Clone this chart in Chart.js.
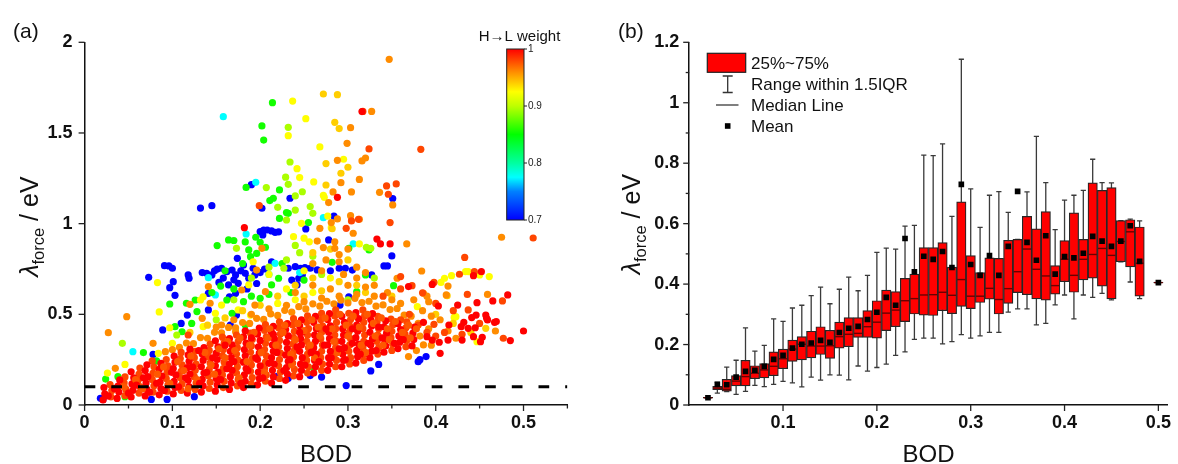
<!DOCTYPE html>
<html><head><meta charset="utf-8">
<script src="https://cdn.jsdelivr.net/npm/chart.js@4.4.1/dist/chart.umd.min.js"></script>
<style>
html,body{margin:0;padding:0;background:#fff;width:1178px;height:464px;overflow:hidden}
#wa{position:absolute;left:0;top:0;width:590px;height:464px}
#wb{position:absolute;left:590px;top:0;width:588px;height:464px}
</style></head><body>
<div id="wa"><canvas id="ca" width="590" height="464"></canvas></div>
<div id="wb"><canvas id="cb" width="588" height="464"></canvas></div>
<script>
// ---------------- Panel (a) data: [BOD, lambda_force] grouped by H->L weight ----------------
const groupWeights = {overlayRed:1.0, overlayMix:0.975, red:1.0, redOrange:0.98, orange:0.96, yellowOrange:0.94, yellow:0.925, yellowGreen:0.895, green:0.855, cyan:0.775, blue:0.70};
const thresholdLine = 0.1;
const cbarTicks = [0.7, 0.8, 0.9, 1];

const overlayRedPts = [
[.027,.050],[.034,.090],[.050,.065],[.059,.110],[.067,.150],[.074,.070],[.082,.120],[.091,.080],[.099,.180],[.107,.100],
[.115,.150],[.123,.210],[.131,.120],[.139,.180],[.146,.260],[.155,.140],[.162,.200],[.170,.240],[.178,.120],[.186,.190],
[.195,.260],[.203,.150],[.210,.230],[.219,.290],[.227,.190],[.234,.250],[.242,.320],[.251,.220],[.258,.290],[.267,.240],
[.273,.330],[.281,.260],[.290,.310],[.297,.250],[.305,.340],[.314,.280],[.323,.340],[.332,.300],[.339,.370],[.353,.340],
[.363,.360],[.130,.300],[.160,.330],[.190,.370],[.215,.390],[.245,.400],[.275,.420],[.305,.420],[.335,.430]
];
const overlayMixPts = [
[.045,.100],[.058,.140],[.066,.090],[.083,.170],[.090,.210],[.097,.120],[.106,.240],[.113,.190],[.121,.270],[.128,.140],
[.137,.290],[.144,.220],[.153,.310],[.160,.260],[.163,.350],[.171,.300],[.177,.370],[.185,.240],[.188,.330],[.193,.400],
[.201,.290],[.209,.370],[.211,.420],[.218,.330],[.226,.400],[.228,.440],[.235,.280],[.240,.360],[.243,.450],[.250,.410],
[.257,.330],[.259,.470],[.266,.430],[.268,.380],[.274,.480],[.282,.420],[.284,.350],[.291,.500],[.298,.440],[.300,.380],
[.306,.490],[.313,.430],[.315,.330],[.322,.500],[.329,.450],[.331,.380],[.338,.480],[.345,.420],[.347,.360],[.354,.460],
[.362,.400],[.369,.440],[.371,.370],[.378,.420],[.236,.220],[.205,.180],[.176,.150],[.148,.170],[.118,.090],[.262,.260],
[.288,.290],[.320,.290],[.340,.330]
];
const redPts = [
[.021,.028],[.023,.062],[.022,.096],
[.037,.036],[.039,.071],[.038,.104],[.040,.138],
[.053,.044],[.055,.081],[.054,.116],[.056,.150],[.053,.183],
[.069,.050],[.071,.086],[.070,.121],[.072,.156],[.069,.190],[.071,.222],
[.085,.056],[.087,.091],[.086,.126],[.088,.160],[.085,.196],[.087,.229],
[.101,.061],[.103,.096],[.102,.131],[.104,.166],[.101,.201],[.103,.236],[.102,.270],
[.117,.066],[.119,.101],[.118,.136],[.120,.171],[.117,.206],[.119,.241],[.118,.276],[.120,.308],
[.133,.071],[.135,.106],[.134,.141],[.136,.176],[.133,.211],[.135,.246],[.134,.281],[.136,.316],
[.149,.076],[.151,.111],[.150,.146],[.152,.181],[.149,.216],[.151,.251],[.150,.286],[.152,.321],[.149,.354],
[.165,.086],[.167,.121],[.166,.156],[.168,.191],[.165,.226],[.167,.261],[.166,.296],[.168,.331],[.165,.366],
[.181,.096],[.183,.131],[.182,.166],[.184,.201],[.181,.236],[.183,.271],[.182,.306],[.184,.341],[.181,.376],[.183,.409],
[.197,.111],[.199,.146],[.198,.181],[.200,.216],[.197,.251],[.199,.286],[.198,.321],[.200,.356],[.197,.391],[.199,.424],
[.213,.121],[.215,.156],[.214,.191],[.216,.226],[.213,.261],[.215,.296],[.214,.331],[.216,.366],[.213,.401],[.215,.434],
[.229,.136],[.231,.171],[.230,.206],[.232,.241],[.229,.276],[.231,.311],[.230,.346],[.232,.381],[.229,.416],[.231,.449],
[.245,.156],[.247,.191],[.246,.226],[.248,.261],[.245,.296],[.247,.331],[.246,.366],[.248,.401],[.245,.436],[.247,.469],
[.261,.176],[.263,.211],[.262,.246],[.264,.281],[.261,.316],[.263,.351],[.262,.386],[.264,.421],[.261,.456],[.263,.489],
[.277,.191],[.279,.226],[.278,.261],[.280,.296],[.277,.331],[.279,.366],[.278,.401],[.280,.436],[.277,.471],[.279,.504],
[.293,.211],[.295,.246],[.294,.281],[.296,.316],[.293,.351],[.295,.386],[.294,.421],[.296,.456],[.293,.489],
[.309,.231],[.311,.266],[.310,.301],[.312,.336],[.309,.371],[.311,.406],[.310,.441],[.312,.476],[.309,.509],
[.325,.261],[.327,.296],[.326,.331],[.328,.366],[.325,.401],[.327,.436],[.326,.471],[.328,.504],
[.341,.291],[.343,.326],[.342,.361],[.344,.396],[.341,.431],[.343,.464],
[.357,.311],[.359,.346],[.358,.381],[.360,.416],[.357,.449],
[.373,.326],[.375,.361],[.374,.396],[.376,.429],
[.316,1.618],[.288,1.145],[.182,0.978],[.333,0.915],[.337,0.888],[.348,0.888],[.369,0.653],[.452,0.735],[.443,0.713],
[.396,0.665],[.465,0.574],[.482,0.607],[.447,0.564],[.403,0.546],[.425,0.551],[.446,0.496],[.459,0.469],[.467,0.456],
[.458,0.478],[.432,0.456],[.441,0.482],[.445,0.426],[.437,0.423],[.429,0.432],[.415,0.441],[.443,0.377],[.453,0.373],
[.430,0.358],[.414,0.358],[.404,0.346],[.396,0.358],[.405,0.285],[.390,0.377],[.386,0.456],[.500,0.408],[.485,0.355],
[.451,0.349],[.457,0.496],[.469,0.460]
];
const redOrangePts = [
[.030,.045],[.031,.080],[.029,.113],
[.046,.052],[.047,.087],[.045,.122],[.046,.155],
[.062,.066],[.063,.101],[.061,.136],[.062,.171],[.063,.204],
[.078,.071],[.079,.106],[.077,.141],[.078,.176],[.079,.211],[.077,.243],
[.094,.076],[.095,.111],[.093,.146],[.094,.181],[.095,.216],[.093,.251],
[.110,.081],[.111,.116],[.109,.151],[.110,.186],[.111,.221],[.109,.256],[.110,.290],
[.126,.086],[.127,.121],[.125,.156],[.126,.191],[.127,.226],[.125,.261],[.126,.296],
[.142,.091],[.143,.126],[.141,.161],[.142,.196],[.143,.231],[.141,.266],[.142,.301],[.143,.336],
[.158,.096],[.159,.131],[.157,.166],[.158,.201],[.159,.236],[.157,.271],[.158,.306],[.159,.341],[.157,.374],
[.174,.106],[.175,.141],[.173,.176],[.174,.211],[.175,.246],[.173,.281],[.174,.316],[.175,.351],[.173,.386],
[.190,.116],[.191,.151],[.189,.186],[.190,.221],[.191,.256],[.189,.291],[.190,.326],[.191,.361],[.189,.396],
[.206,.131],[.207,.166],[.205,.201],[.206,.236],[.207,.271],[.205,.306],[.206,.341],[.207,.376],[.205,.411],[.206,.444],
[.222,.146],[.223,.181],[.221,.216],[.222,.251],[.223,.286],[.221,.321],[.222,.356],[.223,.391],[.221,.426],[.222,.459],
[.238,.161],[.239,.196],[.237,.231],[.238,.266],[.239,.301],[.237,.336],[.238,.371],[.239,.406],[.237,.441],[.238,.476],
[.254,.176],[.255,.211],[.253,.246],[.254,.281],[.255,.316],[.253,.351],[.254,.386],[.255,.421],[.253,.456],[.254,.491],
[.270,.191],[.271,.226],[.269,.261],[.270,.296],[.271,.331],[.269,.366],[.270,.401],[.271,.436],[.269,.471],[.270,.506],
[.286,.211],[.287,.246],[.285,.281],[.286,.316],[.287,.351],[.285,.386],[.286,.421],[.287,.456],[.285,.491],[.286,.524],
[.302,.226],[.303,.261],[.301,.296],[.302,.331],[.303,.366],[.301,.401],[.302,.436],[.303,.471],[.301,.506],
[.318,.246],[.319,.281],[.317,.316],[.318,.351],[.319,.386],[.317,.421],[.318,.456],[.319,.491],[.317,.524],
[.334,.281],[.335,.316],[.333,.351],[.334,.386],[.335,.421],[.333,.456],[.334,.489],
[.350,.301],[.351,.336],[.349,.371],[.350,.406],[.351,.441],[.349,.474],
[.366,.321],[.367,.356],[.365,.391],[.366,.426],[.367,.459],
[.317,1.619],[.324,1.412],[.383,1.410],[.344,1.208],[.346,1.162],[.355,1.219],[.348,1.006],[.304,1.015],[.298,0.974],
[.199,1.099],[.433,0.814],[.398,0.676],[.427,0.721],[.444,0.735],[.385,0.619],[.373,0.658],[.360,0.708],[.436,0.610],
[.437,0.524],[.476,0.574],[.398,0.445],[.380,0.441],[.477,0.368],[.511,0.921],[.312,1.024],[.118,0.386],[.340,0.600],
[.360,0.640],[.400,0.560],[.420,0.520],[.450,0.450],[.410,0.400],[.430,0.390],[.390,0.400],[.400,0.380],[.370,0.500],[.360,0.470]
];
const orangePts = [
[.347,1.906],[.327,1.619],[.303,1.529],[.299,1.443],[.288,1.349],[.316,1.346],[.320,1.362],[.313,1.244],[.336,1.173],
[.351,1.103],[.292,1.226],[.304,1.175],[.283,1.175],[.278,1.116],[.288,1.026],[.303,1.044],[.313,1.024],[.268,0.974],
[.281,1.006],[.306,0.947],[.265,0.904],[.272,0.868],[.285,0.864],[.290,0.830],[.367,0.888],[.475,0.925],[.384,0.739],
[.414,0.656],[.459,0.610],[.386,0.616],[.392,0.570],[.468,0.408],[.414,0.408],[.423,0.368],[.386,0.331],[.412,0.607],
[.369,0.267],[.356,0.699],[.027,0.399],[.048,0.487],[.035,0.202],[.078,0.340],[.092,0.294],[.120,0.555],[.134,0.478],
[.143,0.561],[.156,0.441],[.172,0.404],[.194,0.551],[.206,0.625],[.202,0.864],[.196,0.744],[.179,0.634],[.141,0.653],
[.100,.305],[.108,.318],[.116,.342],[.124,.338],[.132,.372],[.140,.368],[.148,.401],[.156,.398],[.164,.428],[.172,.425],
[.180,.455],[.188,.450],[.196,.478],[.204,.472],[.212,.502],[.220,.494],[.228,.522],[.236,.512],[.244,.542],[.252,.530],
[.260,.558],[.268,.545],[.276,.572],[.284,.558],[.292,.578],[.300,.563],[.308,.588],[.316,.565],[.324,.572],[.332,.545],
[.340,.552],[.348,.526],[.356,.532],[.364,.496],[.372,.490],[.380,.450],
[.150,.430],[.170,.470],[.190,.500],[.210,.530],[.230,.550],[.250,.570],[.270,.590],[.290,.600],[.310,.610],[.330,.600],
[.350,.580],[.240,.620],[.280,.640],[.300,.660],[.320,.650],[.260,.660],
[.385,.520],[.395,.490],[.405,.470],[.360,.560],[.375,.580],[.390,.600],[.345,.620],[.330,.660],[.310,.700],[.295,.720],
[.270,.740],[.260,.780],[.275,.800],[.290,.790],[.310,.760],[.320,.730],[.300,.860],[.285,.900],
[.382,.380],[.392,.420],[.378,.300],[.395,.330]
];
const yellowOrangePts = [
[.272,1.715],[.288,1.711],[.285,1.559],[.290,1.524],[.275,1.331],[.300,1.311],[.292,1.278],[.275,1.213],[.457,0.423],
[.413,0.603],[.420,0.450],[.440,0.400],[.400,0.500],[.350,0.600],[.320,0.620],[.290,0.680],[.260,0.700],[.240,0.660],
[.220,0.600],[.200,0.550],[.180,0.520],[.160,0.480],[.140,0.440],[.120,0.400],[.250,0.600],[.270,0.630],[.310,0.660],
[.280,0.860],[.282,0.972],[.260,0.840],[.300,0.800]
];
const yellowPts = [
[.237,1.676],[.252,1.579],[.232,1.485],[.295,1.355],[.242,1.303],[.245,1.254],[.261,1.230],[.272,1.156],[.273,1.145],
[.277,1.042],[.281,0.978],[.247,1.002],[.268,1.423],[.085,0.513],[.083,0.675],[.046,0.224],[.026,0.176],[.097,0.426],
[.100,0.340],[.084,0.285],[.132,0.579],[.135,0.432],[.149,0.506],[.175,0.524],[.189,0.496],[.192,0.790],[.187,0.662],
[.156,0.551],[.135,0.597],[.238,0.928],[.250,0.920],[.256,0.900],[.313,0.888],[.406,0.676],[.410,0.699],[.418,0.713],
[.434,0.735],[.437,0.735],[.450,0.717],[.379,0.542],[.421,0.483],[.447,0.349],[.461,0.708],[.423,0.487],[.220,0.560],
[.240,0.580],[.230,0.640],[.260,0.620],[.210,0.720],[.250,0.740],[.280,0.700]
];
const yellowGreenPts = [
[.232,1.531],[.234,1.340],[.229,1.256],[.232,1.217],[.207,1.199],[.248,1.176],[.240,1.153],[.240,1.075],[.257,1.094],
[.260,1.057],[.220,1.090],[.230,1.020],[.227,0.754],[.326,0.864],[.321,0.870],[.105,0.386],[.043,0.340],[.173,0.864],
[.240,0.880],[.245,0.840],[.230,0.800],[.260,0.820],[.210,0.760],[.190,0.700],[.170,0.580],[.150,0.470],[.300,0.580],
[.330,0.700],[.270,0.720]
];
const greenPts = [
[.214,1.667],[.202,1.539],[.204,1.461],[.222,1.186],[.184,1.200],[.215,1.140],[.211,1.127],[.222,1.029],[.232,1.057],
[.255,1.006],[.230,1.061],[.183,0.899],[.164,0.910],[.170,0.907],[.151,0.879],[.187,0.855],[.189,0.818],[.196,0.836],
[.200,0.897],[.206,0.870],[.195,0.925],[.097,0.557],[.103,0.432],[.111,0.404],[.067,0.289],[.082,0.243],[.024,0.143],
[.038,0.156],[.116,0.561],[.122,0.450],[.128,0.515],[.168,0.506],[.181,0.570],[.183,0.441],[.200,0.588],[.213,0.662],
[.221,0.699],[.162,0.579],[.126,0.579],[.155,0.656],[.324,0.855],[.282,0.787],[.250,0.689],[.352,0.658],[.310,0.625],
[.320,0.717],[.261,0.202],[.301,0.864],[.235,0.620],[.210,0.610],[.190,0.600],[.170,0.640],[.145,0.620],[.160,0.740],
[.180,0.780],[.225,0.780],[.046,0.046]
];
const cyanPts = [
[.158,1.590],[.195,1.228],[.184,0.943],[.272,1.033],[.306,0.888],[.141,0.702],[.149,0.607],[.217,0.781],[.210,0.720],
[.245,0.730],[.055,0.294]
];
const bluePts = [
[.132,1.086],[.145,1.099],[.202,1.085],[.190,1.215],[.234,1.140],[.351,1.138],[.284,1.042],[.200,0.956],[.204,0.965],
[.208,0.965],[.213,0.960],[.217,0.952],[.203,0.938],[.221,0.955],[.252,0.971],[.174,0.809],[.278,0.910],[.350,0.822],
[.341,0.767],[.345,0.767],[.073,0.704],[.091,0.768],[.096,0.767],[.100,0.754],[.101,0.680],[.097,0.647],[.103,0.605],
[.089,0.414],[.118,0.717],[.119,0.699],[.134,0.730],[.139,0.726],[.145,0.717],[.151,0.750],[.156,0.754],[.162,0.735],
[.168,0.744],[.172,0.717],[.153,0.676],[.164,0.662],[.175,0.671],[.181,0.772],[.183,0.726],[.187,0.699],[.192,0.754],
[.194,0.717],[.158,0.700],[.170,0.690],[.178,0.740],[.148,0.740],[.141,0.616],[.165,0.597],[.166,0.441],[.110,0.450],
[.078,0.279],[.172,0.616],[.141,0.524],[.213,0.790],[.232,0.754],[.240,0.763],[.246,0.754],[.251,0.757],[.257,0.754],
[.244,0.699],[.236,0.689],[.248,0.717],[.242,0.662],[.290,0.754],[.297,0.754],[.305,0.744],[.327,0.717],[.301,0.597],
[.291,0.551],[.018,0.037],[.021,0.030],[.076,0.031],[.094,0.031],[.125,0.046],[.219,0.156],[.232,0.147],[.257,0.162],
[.270,0.154],[.298,0.107],[.326,0.188],[.335,0.224],[.380,0.239],[.382,0.250],[.389,0.267],[.173,0.496],[.117,0.496],
[.280,0.740],[.265,0.745],[.200,0.730],[.205,0.750],[.185,0.640],[.196,0.670]
];
const xTicksA = [0, 0.1, 0.2, 0.3, 0.4, 0.5];
const xMinorA = [0.05, 0.15, 0.25, 0.35, 0.45, 0.55];
const yTicksA = [0, 0.5, 1, 1.5, 2];

// ---------------- Panel (b) data: box statistics per BOD bin ----------------
const bods      = [0.02,0.03,0.04,0.05,0.06,0.07,0.08,0.09,0.10,0.11,0.12,0.13,0.14,0.15,0.16,0.17,0.18,0.19,0.20,0.21,0.22,0.23,0.24,0.25,0.26,0.27,0.28,0.29,0.30,0.31,0.32,0.33,0.34,0.35,0.36,0.37,0.38,0.39,0.40,0.41,0.42,0.43,0.44,0.45,0.46,0.47,0.48,0.50];
const q1        = [.023,.051,.046,.063,.063,.087,.090,.097,.120,.144,.149,.156,.167,.154,.188,.193,.224,.224,.221,.246,.259,.276,.301,.297,.296,.312,.302,.326,.319,.339,.350,.301,.336,.372,.365,.351,.347,.367,.408,.373,.414,.420,.393,.351,.474,.457,.360,.404];
const medians   = [.024,.056,.052,.079,.094,.105,.116,.128,.153,.185,.201,.195,.195,.196,.226,.234,.237,.259,.274,.304,.314,.345,.352,.364,.365,.373,.363,.415,.360,.360,.386,.349,.385,.441,.516,.449,.427,.395,.482,.429,.482,.498,.518,.495,.541,.573,.469,.405];
const q3        = [.025,.062,.085,.097,.148,.130,.137,.176,.185,.215,.226,.244,.259,.247,.274,.289,.289,.312,.345,.380,.375,.419,.433,.521,.521,.537,.456,.672,.494,.438,.487,.485,.545,.548,.624,.583,.640,.461,.544,.636,.548,.735,.710,.719,.610,.613,.589,.406];
const whiskerLo = [.024,.039,.044,.035,.045,.065,.061,.068,.078,.073,.060,.092,.082,.100,.099,.083,.129,.112,.124,.135,.164,.176,.217,.221,.221,.202,.210,.233,.221,.229,.240,.240,.307,.318,.318,.265,.270,.331,.364,.285,.364,.356,.369,.348,.474,.407,.352,.405];
const whiskerHi = [.024,.075,.125,.148,.255,.178,.197,.285,.277,.321,.330,.362,.390,.335,.383,.423,.378,.429,.505,.519,.516,.592,.594,.827,.825,.864,.624,1.144,.715,.588,.694,.706,.637,.548,.705,.889,.736,.580,.678,.694,.710,.813,.736,.735,.610,.615,.609,.405];
const means     = [.024,.068,.067,.092,.111,.115,.128,.151,.164,.188,.201,.205,.214,.207,.240,.254,.260,.283,.307,.356,.330,.551,.441,.492,.482,.508,.455,.730,.465,.429,.494,.429,.525,.707,.538,.479,.560,.433,.491,.487,.502,.558,.542,.525,.542,.593,.475,.405];
const xTicksB = [0.1, 0.2, 0.3, 0.4, 0.5];
const yTicksB = [0, 0.2, 0.4, 0.6, 0.8, 1, 1.2];
const yMinorB = [0.1, 0.3, 0.5, 0.7, 0.9, 1.1];
const legendLabels = ['25%~75%', 'Range within 1.5IQR', 'Median Line', 'Mean'];

// ---------------- helpers ----------------
const FAM = '"Liberation Sans", Arial, Helvetica, sans-serif';
const cmapStops = [[0.70,[0,0,255]],[0.75,[0,128,255]],[0.775,[0,255,255]],[0.80,[0,255,160]],[0.85,[0,255,0]],[0.90,[190,255,0]],[0.925,[255,255,0]],[0.96,[255,140,0]],[1.00,[255,0,0]]];
function weightColor(w){
  if (w <= cmapStops[0][0]) return 'rgb(' + cmapStops[0][1].join(',') + ')';
  for (let i = 1; i < cmapStops.length; i++){
    const [w1,c1] = cmapStops[i-1], [w2,c2] = cmapStops[i];
    if (w <= w2){
      const t = (w - w1) / (w2 - w1);
      const c = c1.map((v,k) => Math.round(v + (c2[k]-v)*t));
      return 'rgb(' + c.join(',') + ')';
    }
  }
  return 'rgb(255,0,0)';
}
const fmt = v => String(Math.round(v*100)/100);
const clamp01 = v => Math.min(1, Math.max(0, v));

const tickMarks = {
  id: 'tickMarks',
  afterDraw(chart, args, opts){
    const ctx = chart.ctx;
    ctx.save(); ctx.strokeStyle = '#222'; ctx.lineWidth = 1.3;
    for (const t of opts.items){
      const sc = chart.scales[t.axis];
      for (const [vals, len] of [[t.major, t.majorLen], [t.minor || [], t.minorLen]]){
        for (const v of vals){
          const p = sc.getPixelForValue(v);
          ctx.beginPath();
          if (t.axis === 'x'){ ctx.moveTo(p, sc.top); ctx.lineTo(p, sc.top + len); }
          else { ctx.moveTo(sc.right, p); ctx.lineTo(sc.right - len, p); }
          ctx.stroke();
        }
      }
    }
    ctx.restore();
  }
};

function drawYTitle(ctx, bx, cy){
  ctx.save();
  ctx.translate(bx, cy);
  ctx.rotate(-Math.PI/2);
  ctx.fillStyle = '#111';
  ctx.textBaseline = 'alphabetic';
  ctx.textAlign = 'left';
  const f1 = 'italic 25px ' + FAM, f2 = '16.5px ' + FAM, f3 = '25px ' + FAM;
  ctx.font = f1; const w1 = ctx.measureText('λ').width;
  ctx.font = f2; const w2 = ctx.measureText('force').width;
  ctx.font = f3; const w3 = ctx.measureText(' / eV').width;
  let x = -(w1 + w2 + w3) / 2;
  ctx.font = f1; ctx.fillText('λ', x, 0); x += w1;
  ctx.font = f2; ctx.fillText('force', x, 6); x += w2;
  ctx.font = f3; ctx.fillText(' / eV', x, 0);
  ctx.restore();
}

function axisCommon(ticksArr, padding){
  return {
    type: 'linear', offset: false,
    grid: {display: false, drawTicks: false, offset: false},
    border: {display: true, color: '#111', width: 1.5},
    afterBuildTicks: s => { s.ticks = ticksArr.map(v => ({value: v})); },
    ticks: {padding: padding, autoSkip: false, maxRotation: 0, color: '#111',
            font: {family: FAM, size: 18, weight: 'bold'}, callback: v => fmt(v)}
  };
}

// ---------------- Chart (a) ----------------
const decoA = {
  id: 'decoA',
  afterDraw(chart){
    const ctx = chart.ctx, ca = chart.chartArea;
    ctx.save();
    ctx.fillStyle = '#111';
    ctx.font = '21px ' + FAM; ctx.textAlign = 'left'; ctx.textBaseline = 'alphabetic';
    ctx.fillText('(a)', 13, 38);
    ctx.font = '24px ' + FAM; ctx.textAlign = 'center';
    ctx.fillText('BOD', (ca.left + ca.right) / 2, 461.5);
    ctx.restore();
    drawYTitle(ctx, 38, (ca.top + ca.bottom) / 2 + 3);
    // colour bar
    ctx.save();
    const x0 = 506.7, w = 17.3, yTop = 49, yBot = 220;
    const g = ctx.createLinearGradient(0, yBot, 0, yTop);
    for (const [wt, c] of cmapStops) g.addColorStop(clamp01((wt - 0.7) / 0.3), 'rgb(' + c.join(',') + ')');
    ctx.fillStyle = g; ctx.fillRect(x0, yTop, w, yBot - yTop);
    ctx.strokeStyle = '#222'; ctx.lineWidth = 1; ctx.strokeRect(x0, yTop, w, yBot - yTop);
    ctx.fillStyle = '#222'; ctx.font = '10px ' + FAM; ctx.textAlign = 'left'; ctx.textBaseline = 'middle';
    for (const v of cbarTicks){
      const y = yBot - (v - 0.7) / 0.3 * (yBot - yTop);
      ctx.beginPath(); ctx.moveTo(x0 + w, y); ctx.lineTo(x0 + w + 3, y); ctx.stroke();
      ctx.fillText(fmt(v), x0 + w + 4, y);
    }
    ctx.font = '15px ' + FAM; ctx.textAlign = 'center'; ctx.textBaseline = 'alphabetic';
    ctx.fillStyle = '#111';
    ctx.fillText('H→L weight', 519.5, 41);
    ctx.restore();
  }
};

const groupOrder = [['overlayRed', overlayRedPts], ['overlayMix', overlayMixPts], ['red', redPts], ['redOrange', redOrangePts],
  ['orange', orangePts], ['yellowOrange', yellowOrangePts], ['yellow', yellowPts], ['yellowGreen', yellowGreenPts],
  ['green', greenPts], ['cyan', cyanPts], ['blue', bluePts]];
const datasetsA = [{
  label: 'threshold', order: 0, showLine: true, pointRadius: 0,
  data: [{x: 0, y: thresholdLine}, {x: 0.55, y: thresholdLine}],
  borderColor: '#000', borderWidth: 3, borderDash: [10.7, 16]
}];
groupOrder.forEach(([name, pts], i) => {
  datasetsA.push({
    label: name, order: i + 1,
    data: pts.map(p => ({x: p[0], y: p[1]})),
    backgroundColor: weightColor(groupWeights[name]),
    borderWidth: 0, pointRadius: 3.6, pointHoverRadius: 3.6
  });
});

const xA = axisCommon(xTicksA, 7); xA.min = 0; xA.max = 0.55; xA.afterFit = s => { s.height = 59; };
const yA = axisCommon(yTicksA, 12); yA.min = 0; yA.max = 2; yA.afterFit = s => { s.width = 84.6; };

new Chart(document.getElementById('ca'), {
  type: 'scatter',
  data: {datasets: datasetsA},
  options: {
    responsive: false, animation: false, events: [],
    layout: {padding: {left: 0, top: 42.3, right: 22.6, bottom: 0}},
    plugins: {legend: {display: false}, tooltip: {enabled: false},
      tickMarks: {items: [
        {axis: 'x', major: xTicksA, majorLen: 6, minor: xMinorA, minorLen: 3.5},
        {axis: 'y', major: yTicksA, majorLen: 6}
      ]}},
    scales: {x: xA, y: yA}
  },
  plugins: [tickMarks, decoA]
});

// ---------------- Chart (b) ----------------
const boxParts = {
  id: 'boxParts',
  beforeDatasetDraw(chart, args){
    if (args.meta.type !== 'bar') return;
    const ctx = chart.ctx, sx = chart.scales.x, sy = chart.scales.y;
    ctx.save(); ctx.strokeStyle = '#3a3a3a'; ctx.lineWidth = 1.3;
    bods.forEach((b, i) => {
      const x = sx.getPixelForValue(b);
      const yl = sy.getPixelForValue(whiskerLo[i]), yh = sy.getPixelForValue(whiskerHi[i]);
      ctx.beginPath(); ctx.moveTo(x, yl); ctx.lineTo(x, yh);
      ctx.moveTo(x - 2.6, yl); ctx.lineTo(x + 2.6, yl);
      ctx.moveTo(x - 2.6, yh); ctx.lineTo(x + 2.6, yh);
      ctx.stroke();
    });
    ctx.restore();
  },
  afterDatasetDraw(chart, args){
    if (args.meta.type !== 'bar') return;
    const ctx = chart.ctx, sx = chart.scales.x, sy = chart.scales.y;
    ctx.save(); ctx.strokeStyle = '#6a0000'; ctx.lineWidth = 1.4;
    bods.forEach((b, i) => {
      const el = args.meta.data[i];
      const x = sx.getPixelForValue(b), hw = el.width / 2;
      const y = sy.getPixelForValue(medians[i]);
      ctx.beginPath(); ctx.moveTo(x - hw + 0.5, y); ctx.lineTo(x + hw - 0.5, y); ctx.stroke();
    });
    ctx.restore();
  }
};

const decoB = {
  id: 'decoB',
  afterDraw(chart){
    const ctx = chart.ctx, ca = chart.chartArea;
    ctx.save();
    ctx.fillStyle = '#111';
    ctx.font = '21px ' + FAM; ctx.textAlign = 'left'; ctx.textBaseline = 'alphabetic';
    ctx.fillText('(b)', 28, 38);
    ctx.font = '24px ' + FAM; ctx.textAlign = 'center';
    ctx.fillText('BOD', (ca.left + ca.right) / 2, 461.5);
    ctx.restore();
    drawYTitle(ctx, 50, (ca.top + ca.bottom) / 2 + 0.5);
    // legend
    ctx.save();
    const ox = -590;
    ctx.fillStyle = '#ff0000'; ctx.fillRect(707.3 + ox, 53.3, 38.4, 19);
    ctx.strokeStyle = '#222'; ctx.lineWidth = 1.2; ctx.strokeRect(707.3 + ox, 53.3, 38.4, 19);
    ctx.strokeStyle = '#333'; ctx.lineWidth = 1.3;
    const cx = 727.7 + ox;
    ctx.beginPath(); ctx.moveTo(cx, 76); ctx.lineTo(cx, 92.5);
    ctx.moveTo(cx - 5, 76); ctx.lineTo(cx + 5, 76); ctx.moveTo(cx - 5, 92.5); ctx.lineTo(cx + 5, 92.5); ctx.stroke();
    ctx.strokeStyle = '#555'; ctx.lineWidth = 1.5;
    ctx.beginPath(); ctx.moveTo(716 + ox, 105); ctx.lineTo(738.5 + ox, 105); ctx.stroke();
    ctx.fillStyle = '#000'; ctx.fillRect(cx - 2.8, 123.2, 5.6, 5.6);
    ctx.fillStyle = '#111'; ctx.font = '17px ' + FAM; ctx.textAlign = 'left'; ctx.textBaseline = 'middle';
    const ys = [64, 85, 106, 127];
    legendLabels.forEach((t, i) => ctx.fillText(t, 751 + ox, ys[i]));
    ctx.restore();
  }
};

const xB = axisCommon(xTicksB, 7); xB.min = 0; xB.max = 0.51; xB.afterFit = s => { s.height = 59; };
const yB = axisCommon(yTicksB, 10); yB.min = 0; yB.max = 1.2; yB.afterFit = s => { s.width = 99.2; };

new Chart(document.getElementById('cb'), {
  type: 'bar',
  data: {datasets: [
    {type: 'scatter', label: 'Mean', order: 0, data: bods.map((b, i) => ({x: b, y: means[i]})),
     pointStyle: 'rect', pointRadius: 4, pointHoverRadius: 4, backgroundColor: '#000', borderWidth: 0},
    {type: 'bar', label: '25%~75%', order: 1, data: bods.map((b, i) => ({x: b, y: [q1[i], q3[i]]})),
     backgroundColor: '#ff0000', borderColor: '#262626', borderWidth: 1.2, borderSkipped: false,
     barPercentage: 1, categoryPercentage: 1, grouped: false}
  ]},
  options: {
    responsive: false, animation: false, events: [],
    layout: {padding: {left: 0, top: 42.3, right: 5.7, bottom: 0}},
    plugins: {legend: {display: false}, tooltip: {enabled: false},
      tickMarks: {items: [
        {axis: 'x', major: xTicksB, majorLen: 6},
        {axis: 'y', major: yTicksB, majorLen: 6, minor: yMinorB, minorLen: 3.5}
      ]}},
    scales: {x: xB, y: yB}
  },
  plugins: [tickMarks, boxParts, decoB]
});
</script>
</body></html>
